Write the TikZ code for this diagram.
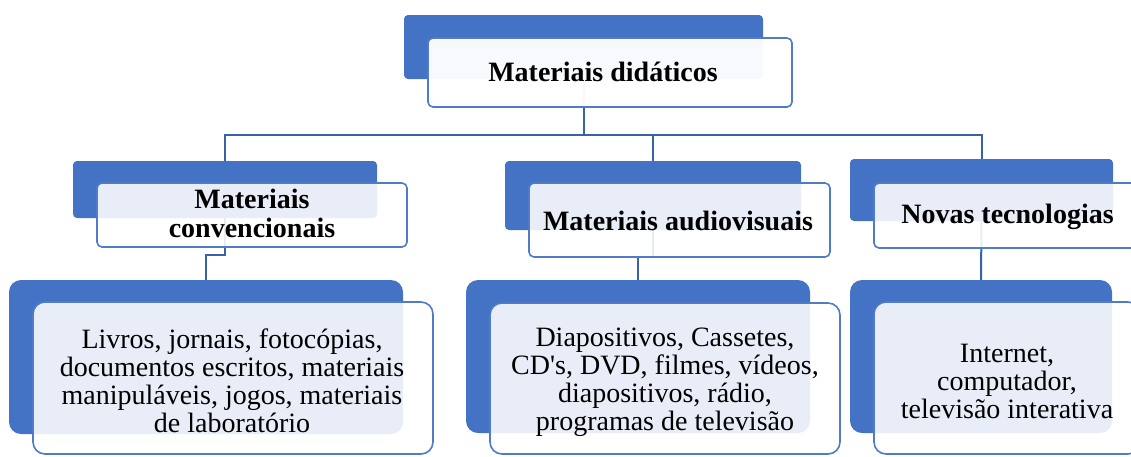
\documentclass[tikz,border=0pt]{standalone}
\usepackage{fontspec}
\setmainfont{Liberation Serif}
\definecolor{sblue}{HTML}{4472C4}
\definecolor{bblue}{HTML}{4F7BC8}
\definecolor{cblue}{HTML}{3A62A8}
\begin{document}
\begin{tikzpicture}[x=1pt,y=-1pt,
  shadowbox/.style={fill=sblue, draw=none, rounded corners=4pt, inner sep=0pt},
  frontbox/.style={draw=bblue, line width=1.6pt, fill=white, fill opacity=0.88, rounded corners=5pt, inner sep=0pt},
  bigr/.style={rounded corners=12pt},
  conn/.style={draw=cblue, line width=2pt},
  ttl/.style={font=\fontsize{28}{29}\selectfont\bfseries, align=center, inner sep=0pt, anchor=base},
  txt/.style={font=\fontsize{28}{28}\selectfont, align=center, inner sep=0pt, anchor=base}]
\useasboundingbox (0,0) rectangle (1131,456);
% shadows (positions only)
\node[shadowbox, minimum width=359pt, minimum height=64pt] (s0) at (583.5,47) {};
\node[shadowbox, minimum width=304pt, minimum height=57pt] (s1) at (225,189.5) {};
\node[shadowbox, minimum width=296pt, minimum height=69pt] (s2) at (653,195.5) {};
\node[shadowbox, minimum width=263pt, minimum height=62pt] (s3) at (981.5,190) {};
\node[shadowbox, bigr, minimum width=394pt, minimum height=154pt] (t1) at (206,357) {};
\node[shadowbox, bigr, minimum width=344pt, minimum height=153pt] (t2) at (638,356.5) {};
\node[shadowbox, bigr, minimum width=262pt, minimum height=153pt] (t3) at (981,356.5) {};
% connectors
\coordinate (bus) at (0,135);
\coordinate (j1) at (0,255);
\coordinate (j2) at (0,257);
\draw[conn] (s0.south) -- (s0.south |- bus);
\draw[conn] (s1.north) -- (s1.north |- bus) -- (s3.north |- bus) -- (s3.north);
\draw[conn] (s2.north) -- (s2.north |- bus);
\draw[conn] (s1.south) -- (s1.south |- j1) -| (t1.north);
\draw[conn] (s2.south) -- (s2.south |- j2) -| (t2.north);
\draw[conn] (s3.south) -- (t3.north);
% front boxes
\node[frontbox, fill opacity=0.96, minimum width=364pt, minimum height=69pt] (f0) at (610,72.5) {};
\node[frontbox, minimum width=310pt, minimum height=64pt] (f1) at (252,215) {};
\node[frontbox, minimum width=301pt, minimum height=74pt] (f2) at (679.5,220) {};
\node[frontbox, minimum width=267pt, minimum height=65pt] (f3) at (1007.5,215.5) {};
\node[frontbox, bigr, minimum width=400pt, minimum height=152pt] (g1) at (233,378) {};
\node[frontbox, bigr, minimum width=350pt, minimum height=151pt] (g2) at (665,378.5) {};
\node[frontbox, bigr, minimum width=266pt, minimum height=152pt] (g3) at (1007,378) {};
% texts (base anchor = baseline of last line)
\node[ttl] (x0) at (603,81) {Materiais didáticos};
\node[ttl] (x1) at (252,237) {Materiais\\convencionais};
\node[ttl] (x2) at (678,230) {Materiais audiovisuais};
\node[ttl] (x3) at (1007.5,223) {Novas tecnologias};
\node[txt] (y1) at (232,432) {Livros, jornais, fotocópias,\\documentos escritos, materiais\\manipuláveis, jogos, materiais\\de laboratório};
\node[txt] (y2) at (665,430) {Diapositivos, Cassetes,\\CD\textquotesingle s, DVD, filmes, vídeos,\\diapositivos, rádio,\\programas de televisão};
\node[txt] (y3) at (1007,418) {Internet,\\computador,\\televisão interativa};
\end{tikzpicture}
\end{document}
